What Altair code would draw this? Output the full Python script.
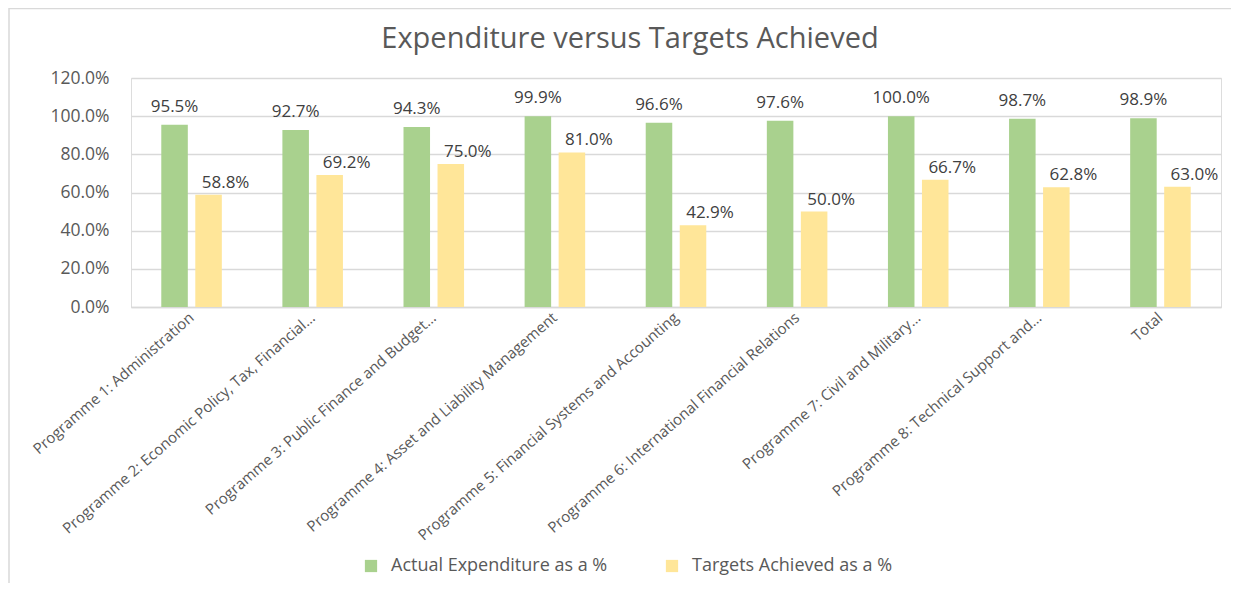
import altair as alt
import pandas as pd

categories = [
    "Programme 1: Administration",
    "Programme 2: Economic Policy, Tax, Financial…",
    "Programme 3: Public Finance and Budget…",
    "Programme 4: Asset and Liability Management",
    "Programme 5: Financial Systems and Accounting",
    "Programme 6: International Financial Relations",
    "Programme 7: Civil and Military…",
    "Programme 8: Technical Support and…",
    "Total",
]
expenditure_pct = [95.5, 92.7, 94.3, 99.9, 96.6, 97.6, 100.0, 98.7, 98.9]
targets_pct = [58.8, 69.2, 75.0, 81.0, 42.9, 50.0, 66.7, 62.8, 63.0]
series_names = ["Actual Expenditure as a %", "Targets Achieved as a %"]
series_colors = ["#A9D18E", "#FFE699"]
y_ticks = [0, 0.2, 0.4, 0.6, 0.8, 1.0, 1.2]
chart_title = "Expenditure versus Targets Achieved"

rows = []
for c, e, t in zip(categories, expenditure_pct, targets_pct):
    rows.append({"category": c, "series": series_names[0], "value": e / 100})
    rows.append({"category": c, "series": series_names[1], "value": t / 100})
df = pd.DataFrame(rows)

FONT = "Open Sans"
W, H = 1090, 229

x_enc = alt.X(
    "category:N",
    sort=categories,
    title=None,
    scale=alt.Scale(paddingInner=0.5, paddingOuter=0.25),
    axis=alt.Axis(
        labelAngle=-41,
        labelAlign="right",
        labelBaseline="middle",
        labelPadding=8,
        labelFontSize=15,
        labelColor="#595959",
        labelFont=FONT,
        labelLimit=600,
        labelOverlap=False,
        ticks=False,
        domain=True,
        domainColor="#D9D9D9",
        domainWidth=1.3,
        grid=False,
    ),
)
xoff = alt.XOffset("series:N", sort=series_names, scale=alt.Scale(paddingInner=0.22))
y_enc = alt.Y(
    "value:Q",
    title=None,
    scale=alt.Scale(domain=[0, 1.2], nice=False),
    axis=alt.Axis(
        values=y_ticks,
        tickCount=7,
        format=".1%",
        labelFontSize=17.5,
        labelColor="#595959",
        labelFont=FONT,
        labelPadding=22,
        labelOverlap=False,
        ticks=False,
        domain=False,
        gridColor="#D9D9D9",
        gridWidth=1.3,
    ),
)

base = alt.Chart(df)

bars = base.mark_bar().encode(
    x=x_enc,
    xOffset=xoff,
    y=y_enc,
    color=alt.Color(
        "series:N",
        sort=series_names,
        scale=alt.Scale(domain=series_names, range=series_colors),
        legend=alt.Legend(
            title=None,
            orient="none",
            direction="horizontal",
            legendX=231,
            legendY=479,
            symbolType="square",
            symbolSize=150,
            symbolStrokeWidth=0,
            labelFontSize=18,
            labelFont=FONT,
            labelColor="#595959",
            labelOffset=11,
            labelLimit=500,
            columnPadding=55,
        ),
    ),
)

labels_exp = base.transform_filter(
    alt.datum.series == series_names[0]
).mark_text(
    baseline="alphabetic", dy=-13, fontSize=17, font=FONT, color="#404040"
).encode(
    x=alt.X("category:N", sort=categories),
    xOffset=xoff,
    y="value:Q",
    text=alt.Text("value:Q", format=".1%"),
)

labels_tgt = base.transform_filter(
    alt.datum.series == series_names[1]
).mark_text(
    baseline="alphabetic", dx=17, dy=-7, fontSize=17, font=FONT, color="#404040"
).encode(
    x=alt.X("category:N", sort=categories),
    xOffset=xoff,
    y="value:Q",
    text=alt.Text("value:Q", format=".1%"),
)

one = pd.DataFrame({"t": [chart_title]})

border = alt.Chart(one).mark_rect(
    fill=None, stroke="#D9D9D9", strokeWidth=1.5
).encode(
    x=alt.value(-122),
    y=alt.value(-69.5),
    x2=alt.value(1300),
    y2=alt.value(600),
)

title_text = alt.Chart(one).mark_text(
    fontSize=29, font=FONT, color="#595959", align="center", baseline="alphabetic"
).encode(
    x=alt.value(499),
    y=alt.value(-30),
    text="t:N",
)

chart = alt.layer(border, title_text, bars, labels_exp, labels_tgt).properties(
    width=W,
    height=H,
    autosize=alt.AutoSizeParams(type="none"),
    padding={"left": 123, "top": 70, "right": 10, "bottom": 276},
).configure_view(stroke=None).configure(background="white")

chart.save("out.html", embed_options={"renderer": "svg", "actions": False})
